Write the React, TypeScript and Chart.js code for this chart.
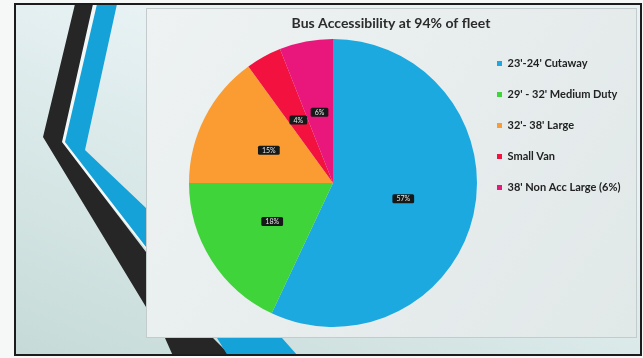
import { useEffect, useRef } from "react";
import { Chart, registerables } from "chart.js";

Chart.register(...registerables);

const chartTitle = "Bus Accessibility at 94% of fleet";
const categories = [
  "23'-24' Cutaway",
  "29' - 32' Medium Duty",
  "32'- 38' Large",
  "Small Van",
  "38' Non Acc Large (6%)",
];
const shares = [57, 18, 15, 4, 6];
const shareLabels = ["57%", "18%", "15%", "4%", "6%"];
const sliceColors = ["#1ba9e0", "#40d43b", "#fa9c31", "#f3123f", "#e9167c"];

const PANEL = { x: 146, y: 8, w: 490, h: 329 };
const LEGEND_FONT = { family: "Lato", size: 11, weight: "bold" as const };
const LEGEND_PAD = 20;
const LEGEND_BOX = 5;
const LEGEND_LEFT = 477;

function poly(ctx: CanvasRenderingContext2D, pts: number[][], color: string) {
  ctx.beginPath();
  pts.forEach((p, i) => (i === 0 ? ctx.moveTo(p[0], p[1]) : ctx.lineTo(p[0], p[1])));
  ctx.closePath();
  ctx.fillStyle = color;
  ctx.fill();
}

const slidePlugin = {
  id: "slideBackground",
  afterLayout(chart: any) {
    const t = chart.titleBlock;
    if (t) {
      t.left = PANEL.x;
      t.right = PANEL.x + PANEL.w;
      t.width = PANEL.w;
    }
  },
  beforeDraw(chart: any) {
    const ctx: CanvasRenderingContext2D = chart.ctx;
    const w = chart.width;
    const h = chart.height;
    ctx.save();
    ctx.fillStyle = "#f6f7f7";
    ctx.fillRect(0, 0, w, h);
    const g = ctx.createLinearGradient(20, 350, 150, 10);
    g.addColorStop(0, "#c6dbd8");
    g.addColorStop(1, "#e8f2f4");
    ctx.fillStyle = g;
    ctx.fillRect(15, 4, 626, 351);
    poly(ctx, [[92, 4], [99, 4], [67, 142], [150, 246], [150, 254], [60, 142]], "#f3f8f8");
    poly(
      ctx,
      [[75, 4], [93, 4], [62, 142], [146, 252], [213, 338], [231, 356], [173, 356], [165, 338], [146, 307], [43, 137]],
      "#262626"
    );
    poly(
      ctx,
      [[97, 4], [117, 4], [85, 150], [146, 208], [282, 338], [298, 356], [228, 356], [217, 338], [146, 247], [65, 142]],
      "#14a2d9"
    );
    const pg = ctx.createLinearGradient(PANEL.x, PANEL.y, PANEL.x + PANEL.w, PANEL.y + PANEL.h);
    pg.addColorStop(0, "#eef2f3");
    pg.addColorStop(1, "#e1e8e8");
    ctx.fillStyle = pg;
    ctx.fillRect(PANEL.x, PANEL.y, PANEL.w, PANEL.h);
    ctx.strokeStyle = "#c4cbcb";
    ctx.lineWidth = 1;
    ctx.strokeRect(PANEL.x + 0.5, PANEL.y + 0.5, PANEL.w, PANEL.h);
    ctx.strokeStyle = "#1c1c1c";
    ctx.lineWidth = 2;
    ctx.strokeRect(15, 4, 626, 351);
    ctx.restore();
  },
};

const sliceLabelPlugin = {
  id: "sliceLabels",
  afterDatasetsDraw(chart: any) {
    const ctx: CanvasRenderingContext2D = chart.ctx;
    const meta = chart.getDatasetMeta(0);
    ctx.save();
    ctx.font = "7px Lato";
    ctx.textAlign = "center";
    ctx.textBaseline = "middle";
    meta.data.forEach((arc: any, i: number) => {
      const p = arc.tooltipPosition(false);
      const t = shareLabels[i];
      const tw = ctx.measureText(t).width;
      const bw = tw + 8;
      const bh = 9;
      ctx.fillStyle = "#151918";
      ctx.beginPath();
      ctx.roundRect(p.x - bw / 2, p.y - bh / 2, bw, bh, 1.5);
      ctx.fill();
      ctx.fillStyle = "#e6e6e6";
      ctx.fillText(t, p.x, p.y + 0.5);
    });
    ctx.restore();
  },
};

export default function App() {
  const ref = useRef<HTMLCanvasElement | null>(null);
  useEffect(() => {
    document.body.style.margin = "0";
    document.body.style.overflow = "hidden";
    if (!ref.current) return;
    // legend natural width, so that the legend starts at LEGEND_LEFT
    const mctx = document.createElement("canvas").getContext("2d")!;
    mctx.font = `bold ${LEGEND_FONT.size}px ${LEGEND_FONT.family}`;
    const textW = Math.max(...categories.map((c) => mctx.measureText(c).width));
    const legendW = LEGEND_PAD + LEGEND_BOX + LEGEND_FONT.size / 2 + textW + 10;
    const rightPad = Math.max(0, 643 - LEGEND_LEFT - legendW);
    const chart = new Chart(ref.current, {
      type: "pie",
      data: {
        labels: categories,
        datasets: [
          {
            data: shares,
            backgroundColor: sliceColors,
            borderWidth: 0,
          },
        ],
      },
      options: {
        responsive: false,
        animation: false,
        layout: { padding: { top: 8, left: 189, right: rightPad, bottom: 30 } },
        plugins: {
          title: {
            display: true,
            text: chartTitle,
            color: "#2b2b2b",
            font: { family: "Lato", size: 14, weight: "bold" },
            padding: { top: 7, bottom: 6.2 },
          },
          legend: {
            position: "right",
            align: "start",
            fullSize: false,
            labels: {
              boxWidth: LEGEND_BOX,
              boxHeight: LEGEND_BOX,
              padding: LEGEND_PAD,
              color: "#222",
              font: LEGEND_FONT,
            },
          },
          tooltip: { enabled: false },
        },
      },
      plugins: [slidePlugin, sliceLabelPlugin],
    });
    return () => chart.destroy();
  }, []);
  return (
    <div style={{ width: 643, height: 358 }}>
      <canvas ref={ref} width={643} height={358} style={{ display: "block" }} />
    </div>
  );
}
